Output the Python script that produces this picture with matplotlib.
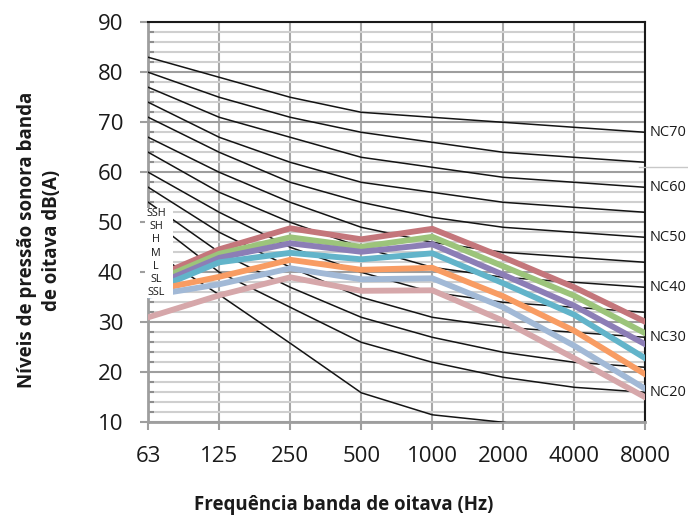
import numpy as np
import matplotlib.pyplot as plt
from matplotlib.patches import Rectangle
from matplotlib.lines import Line2D

plt.rcParams['font.family'] = ['Open Sans', 'DejaVu Sans']

bands = ["63", "125", "250", "500", "1000", "2000", "4000", "8000"]

# NC curves (black)
nc_names = ["NC70", "NC65", "NC60", "NC55", "NC50", "NC45", "NC40", "NC35", "NC30", "NC25", "NC20", "NC15"]
nc70 = [83, 79, 75, 72, 71, 70, 69, 68]
nc65 = [80, 75, 71, 68, 66, 64, 63, 62]
nc60 = [77, 71, 67, 63, 61, 59, 58, 57]
nc55 = [74, 67, 62, 58, 56, 54, 53, 52]
nc50 = [71, 64, 58, 54, 51, 49, 48, 47]
nc45 = [67, 60, 54, 49, 46, 44, 43, 42]
nc40 = [64, 56, 50, 45, 41, 39, 38, 37]
nc35 = [60, 52, 45, 40, 36, 34, 33, 32]
nc30 = [57, 48, 41, 35, 31, 29, 28, 27]
nc25 = [54, 44, 37, 31, 27, 24, 22, 21]
nc20 = [51, 40, 33, 26, 22, 19, 17, 16]
nc15 = [44.7, 35.5, 25.8, 15.9, 11.5, 10, 8, 7]
nc_curves = [nc70, nc65, nc60, nc55, nc50, nc45, nc40, nc35, nc30, nc25, nc20, nc15]
nc_labelled = ["NC70", "NC60", "NC50", "NC40", "NC30", "NC20"]

# measured spectra
series_names = ["SSH", "SH", "H", "M", "L", "SL", "SSL"]
ssh = [38.5, 44.6, 48.8, 46.6, 48.7, 43.0, 37.0, 30.1]
sh = [37.7, 43.7, 47.0, 45.1, 47.1, 41.2, 35.3, 27.8]
h = [36.9, 42.9, 45.8, 44.1, 45.6, 39.5, 33.3, 25.6]
m = [36.1, 42.0, 43.9, 42.6, 43.8, 37.8, 31.5, 22.8]
l = [36.2, 39.1, 42.5, 40.5, 40.9, 35.2, 28.3, 19.6]
sl = [35.3, 37.6, 40.8, 38.6, 38.8, 33.0, 25.3, 16.7]
ssl = [31.0, 35.4, 39.0, 36.3, 36.4, 30.3, 22.8, 15.0]
series = [ssh, sh, h, m, l, sl, ssl]
colors = ["#C4767B", "#9CC47B", "#8C7EB6", "#62B4CA", "#F89C63", "#A2B9D6", "#D6A7AA"]

fig = plt.figure(figsize=(6.88, 5.19), dpi=100)
ax = fig.add_axes([148.3/688, 1-422.3/519, 497/688, 400/519])
x = np.arange(len(bands))

for c in nc_curves:
    ax.plot(x, c, color="#141414", lw=1.1, zorder=3)
for s, col in zip(series, colors):
    ax.plot(x, s, color=col, lw=4.2, zorder=4, solid_joinstyle="miter")

ax.set_xlim(0, 7)
ax.set_ylim(10, 90)
ax.set_xticks(x)
ax.set_xticklabels(bands)
ax.set_yticks(np.arange(10, 91, 10))
ax.set_yticks(np.arange(10, 91, 2), minor=True)
ax.grid(axis="y", which="major", color="#9E9E9E", lw=1.5, zorder=1)
ax.grid(axis="y", which="minor", color="#CFCFCF", lw=1.5, zorder=0.9)
ax.grid(axis="x", which="major", color="#A8A8A8", lw=1.5, zorder=1)
ax.set_axisbelow(True)

ax.tick_params(axis="both", which="major", labelsize=16, color="#9E9E9E", width=1.5,
               length=6, direction="out", labelcolor="#1a1a1a")
ax.tick_params(axis="y", which="major", pad=12)
ax.tick_params(axis="x", which="major", pad=11)
ax.tick_params(axis="y", which="minor", direction="in", length=4, width=1.5, color="#8E8E8E")
for side in ["left", "bottom"]:
    ax.spines[side].set_color("#9E9E9E")
    ax.spines[side].set_linewidth(2)
for side in ["top", "right"]:
    ax.spines[side].set_color("#1a1a1a")
    ax.spines[side].set_linewidth(1.5)

# NC labels at right end
for name, c in zip(nc_names, nc_curves):
    if name in nc_labelled:
        ax.annotate(name, (7, c[-1]), xytext=(3, 0), textcoords="offset points",
                    ha="left", va="center", fontsize=10.5, color="#1a1a1a",
                    annotation_clip=False)

# series label box on the left
ax.add_patch(Rectangle((-3.3/71, 34.8), 27.7/71, 18.0, facecolor="white",
                       edgecolor="none", zorder=5, clip_on=False))
for i, name in enumerate(series_names):
    ax.text(0.108, 51.8 - i*2.65, name, ha="center", va="center", fontsize=7.8,
            color="#1a1a1a", zorder=6)

# stray line at the right edge
fig.add_artist(Line2D([639/688, 1.0], [1-166.7/519]*2, color="#C8C8C8", lw=1))

fig.text(344/688, 1-505/519, "Frequência banda de oitava (Hz)", ha="center", va="center",
         fontsize=13.5, fontweight="bold", color="#1a1a1a")
fig.text(39.5/688, 1-240/519, "Níveis de pressão sonora banda\nde oitava dB(A)",
         rotation=90, ha="center", va="center", multialignment="center",
         fontsize=13.5, fontweight="bold", color="#1a1a1a", linespacing=1.3)

fig.savefig("out.png", dpi=100)
